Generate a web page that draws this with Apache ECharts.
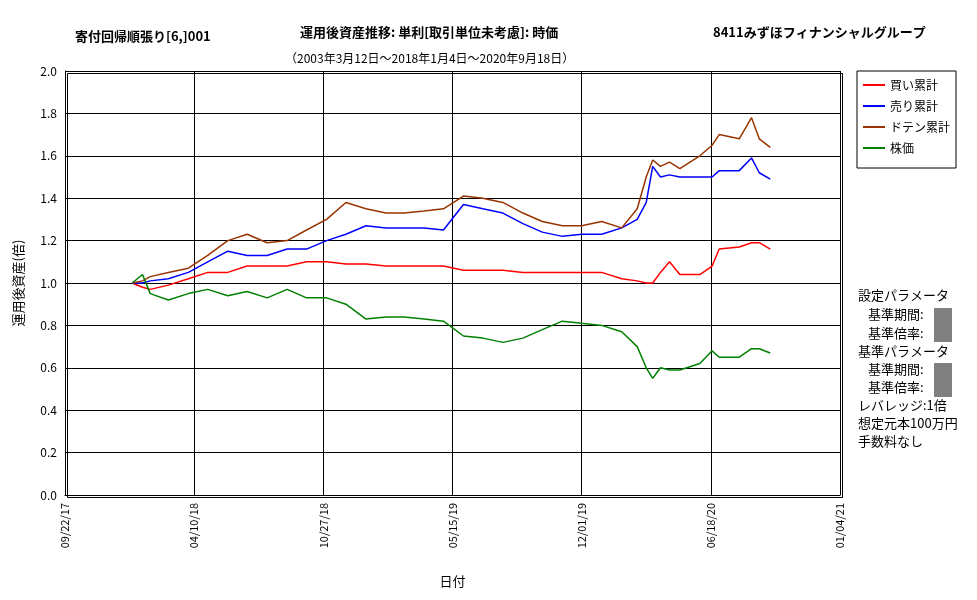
<!DOCTYPE html>
<html><head><meta charset="utf-8">
<script src="https://cdn.jsdelivr.net/npm/echarts@6/dist/echarts.min.js"></script>
<style>html,body{margin:0;padding:0;background:#fff}#c{width:977px;height:600px}</style>
</head><body><div id="c"></div>
<script>
const dates = ["2018-01-04","2018-01-20","2018-02-01","2018-03-01","2018-04-01","2018-05-01","2018-06-01","2018-07-01","2018-08-01","2018-09-01","2018-10-01","2018-11-01","2018-12-01","2019-01-01","2019-02-01","2019-03-01","2019-04-01","2019-05-01","2019-06-01","2019-07-01","2019-08-01","2019-09-01","2019-10-01","2019-11-01","2019-12-01","2020-01-01","2020-02-01","2020-02-25","2020-03-10","2020-03-20","2020-04-01","2020-04-15","2020-05-01","2020-06-01","2020-06-20","2020-07-01","2020-08-01","2020-08-20","2020-09-01","2020-09-18"];
const buy   = [1.00,0.98,0.97,0.99,1.02,1.05,1.05,1.08,1.08,1.08,1.10,1.10,1.09,1.09,1.08,1.08,1.08,1.08,1.06,1.06,1.06,1.05,1.05,1.05,1.05,1.05,1.02,1.01,1.00,1.00,1.05,1.10,1.04,1.04,1.08,1.16,1.17,1.19,1.19,1.16];
const sell  = [1.00,1.00,1.01,1.02,1.05,1.10,1.15,1.13,1.13,1.16,1.16,1.20,1.23,1.27,1.26,1.26,1.26,1.25,1.37,1.35,1.33,1.28,1.24,1.22,1.23,1.23,1.26,1.30,1.38,1.55,1.50,1.51,1.50,1.50,1.50,1.53,1.53,1.59,1.52,1.49];
const doten = [1.00,1.01,1.03,1.05,1.07,1.13,1.20,1.23,1.19,1.20,1.25,1.30,1.38,1.35,1.33,1.33,1.34,1.35,1.41,1.40,1.38,1.33,1.29,1.27,1.27,1.29,1.26,1.35,1.50,1.58,1.55,1.57,1.54,1.60,1.65,1.70,1.68,1.78,1.68,1.64];
const stock = [1.00,1.04,0.95,0.92,0.95,0.97,0.94,0.96,0.93,0.97,0.93,0.93,0.90,0.83,0.84,0.84,0.83,0.82,0.75,0.74,0.72,0.74,0.78,0.82,0.81,0.80,0.77,0.70,0.60,0.55,0.60,0.59,0.59,0.62,0.68,0.65,0.65,0.69,0.69,0.67];
const names = ["買い累計","売り累計","ドテン累計","株価"];
const colors = ["#ff0000","#0000ff","#993300","#008000"];
const dayMs = 86400000;
const startMs = Date.UTC(2017,8,22);
function pad(n){return (n<10?'0':'')+n;}
function toMs(s){const p=s.split('-');return Date.UTC(+p[0],+p[1]-1,+p[2]);}
const chart = echarts.init(document.getElementById('c'));
const F = '"Noto Sans CJK JP", sans-serif';
const series = [buy,sell,doten,stock].map((arr,i)=>({
  name:names[i], type:'line', showSymbol:false, symbol:'none',
  lineStyle:{width:1.5,color:colors[i]}, itemStyle:{color:colors[i]},
  data: dates.map((d,j)=>[toMs(d),arr[j]])
}));
const t = (x,y,s,opt={}) => ({type:'text',left:x,top:y,style:Object.assign({text:s,font:'13px '+F,fill:'#000'},opt)});
chart.setOption({
  animation:false,
  grid:{left:65,right:137,top:71,bottom:105},
  legend:{orient:'vertical',left:857,top:71,padding:[8,6,14,6],itemGap:9,
    borderColor:'#000',borderWidth:1,itemWidth:22,itemHeight:2,icon:'rect',
    textStyle:{fontFamily:F,fontSize:12,color:'#000'},data:names},
  xAxis:{type:'value',min:startMs,max:startMs+1200*dayMs,interval:200*dayMs,
    axisLine:{lineStyle:{color:'#000'}},axisTick:{show:false},
    splitLine:{show:true,lineStyle:{color:'#000'}},
    axisLabel:{rotate:90,color:'#000',fontFamily:F,fontSize:11,showMinLabel:true,showMaxLabel:true,margin:8,
      formatter:v=>{const d=new Date(v);return pad(d.getUTCMonth()+1)+'/'+pad(d.getUTCDate())+'/'+pad(d.getUTCFullYear()%100);}},
    name:'日付',nameLocation:'middle',nameGap:80,nameTextStyle:{fontFamily:F,fontSize:13,color:'#000'}},
  yAxis:{type:'value',min:0,max:2,interval:0.2,
    axisLine:{show:true,lineStyle:{color:'#000'}},axisTick:{show:false},
    splitLine:{lineStyle:{color:'#000'}},
    axisLabel:{color:'#000',fontFamily:F,fontSize:12,formatter:v=>v.toFixed(1)},
    name:'運用後資産(倍)',nameLocation:'middle',nameGap:40,nameTextStyle:{fontFamily:F,fontSize:13,color:'#000'}},
  series:series,
  graphic:[
    {type:'rect',left:65,top:71,shape:{width:775,height:424},style:{fill:'none',stroke:'#000',lineWidth:1},silent:true},
    t(75,30,'寄付回帰順張り[6,]001',{font:'bold 13px '+F}),
    t(300,26,'運用後資産推移: 単利[取引単位未考慮]: 時価',{font:'bold 13px '+F}),
    t(285,52,'（2003年3月12日～2018年1月4日～2020年9月18日）',{font:'12px '+F}),
    t(713,26,'8411みずほフィナンシャルグループ',{font:'bold 13px '+F}),
    t(858,289,'設定パラメータ'),
    t(868,308,'基準期間:'),
    t(868,327,'基準倍率:'),
    t(858,345,'基準パラメータ'),
    t(868,363,'基準期間:'),
    t(868,381,'基準倍率:'),
    t(858,399,'レバレッジ:1倍'),
    t(858,417,'想定元本100万円'),
    t(858,435,'手数料なし'),
    {type:'rect',left:934,top:308,shape:{width:18,height:34},style:{fill:'#808080'}},
    {type:'rect',left:934,top:363,shape:{width:18,height:34},style:{fill:'#808080'}}
  ]
});
</script></body></html>
